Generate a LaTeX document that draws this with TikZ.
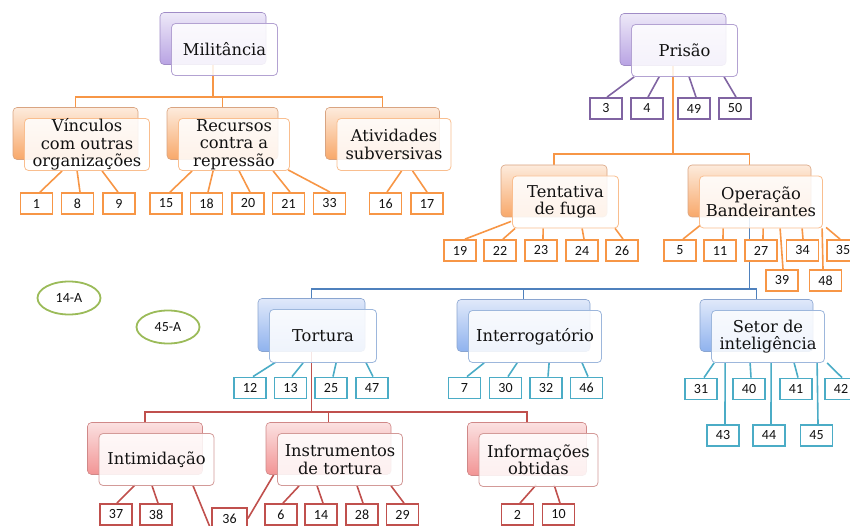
\documentclass[tikz,border=0pt]{standalone}
\usepackage{fontspec}
\setmainfont{DejaVu Serif}
\newfontfamily\numfont{Carlito}
\usetikzlibrary{shapes.geometric}
\pgfdeclarelayer{bg}
\pgfsetlayers{bg,main}
\definecolor{oL}{HTML}{F79646}
\definecolor{pL}{HTML}{8064A2}
\definecolor{bL}{HTML}{4F81BD}
\definecolor{cL}{HTML}{4BACC6}
\definecolor{rL}{HTML}{C0504D}
\definecolor{gL}{HTML}{9BBB59}
\definecolor{txt}{HTML}{111111}
% purple theme
\definecolor{tP}{HTML}{EEE9F8}\definecolor{btP}{HTML}{B8A3E3}\definecolor{bdP}{HTML}{A08CC6}\definecolor{fdP}{HTML}{B3A2D2}
% orange theme
\definecolor{tO}{HTML}{FDEBDC}\definecolor{btO}{HTML}{F8A86A}\definecolor{bdO}{HTML}{D9A481}\definecolor{fdO}{HTML}{F9BE8F}
% blue theme
\definecolor{tB}{HTML}{E0E9FA}\definecolor{btB}{HTML}{8FB2EE}\definecolor{bdB}{HTML}{8AA5D0}\definecolor{fdB}{HTML}{9DB7DC}
% red theme
\definecolor{tR}{HTML}{FBE1E1}\definecolor{btR}{HTML}{F29494}\definecolor{bdR}{HTML}{D08888}\definecolor{fdR}{HTML}{D39A98}
\tikzset{
  backbox/.style={rounded corners=4pt, line width=0.6pt, inner sep=0pt},
  backP/.style={backbox, draw=bdP, top color=tP, bottom color=btP},
  backO/.style={backbox, draw=bdO, top color=tO, bottom color=btO},
  backB/.style={backbox, draw=bdB, top color=tB, bottom color=btB},
  backR/.style={backbox, draw=bdR, top color=tR, bottom color=btR},
  frontbox/.style={rounded corners=4pt, line width=0.8pt, fill=white, fill opacity=0.86,
    text opacity=1, text=txt, align=center, inner sep=0pt,
    font=\fontsize{16.3}{17.5}\selectfont},
  frontP/.style={frontbox, draw=fdP},
  frontO/.style={frontbox, draw=fdO},
  frontB/.style={frontbox, draw=fdB},
  frontR/.style={frontbox, draw=fdR},
  numbox/.style={draw, fill=white, line width=1.8pt, minimum width=32pt, minimum height=21pt,
    inner sep=0pt, text=txt, font=\numfont\fontsize{14}{14}\selectfont},
  ob/.style={numbox, draw=oL},
  pb/.style={numbox, draw=pL},
  cb/.style={numbox, draw=cL},
  rb/.style={numbox, draw=rL},
  conn/.style={line width=1.6pt},
  ol/.style={conn, draw=oL},
  pl/.style={conn, draw=pL},
  bl/.style={conn, draw=bL},
  cl/.style={conn, draw=cL},
  rl/.style={conn, draw=rL},
  oval/.style={ellipse, draw=gL, line width=1.8pt, minimum width=63pt, minimum height=33pt,
    inner sep=0pt, text=txt, font=\numfont\fontsize{14}{14}\selectfont},
}
% #1 name, #2 theme, #3 x, #4 y (front centre), #5 width, #6 height, #7 text
\newcommand\catbox[7]{%
  \node[back#2, minimum width=#5pt, minimum height=#6pt] (#1B) at (#3-11.5,#4-11) {};
  \node[front#2, minimum width=#5pt, minimum height=#6pt] (#1) at (#3,#4) {#7};
}
% #1 style, #2 box, #3 dx on box top, #4 parent, #5 x offset from parent south west, #6 yshift
\newcommand\lk[6]{%
  \begin{pgfonlayer}{bg}
  \draw[#1] ([xshift=#3pt]#2.north) -- ([xshift=#5pt,yshift=#6pt]#4.south west);
  \end{pgfonlayer}
}
\begin{document}
\begin{tikzpicture}[x=1pt,y=-1pt]
\useasboundingbox (0,0) rectangle (850,526);
\clip (0,0) rectangle (850,526);

% category boxes
\catbox{mil}{P}{224.5}{49.5}{106}{52}{Militância}
\catbox{pri}{P}{684.5}{50.5}{106}{52}{Prisão}
\catbox{vin}{O}{87}{144.5}{125}{52}{Vínculos\\com outras\\organizações}
\catbox{rec}{O}{234}{144.5}{111}{52}{Recursos\\contra a\\repressão}
\catbox{ati}{O}{394}{144.5}{114}{52}{Atividades\\subversivas}
\catbox{ten}{O}{565.5}{202}{106}{52}{Tentativa\\de fuga}
\catbox{ope}{O}{761}{202}{123}{52}{Operação\\Bandeirantes}
\catbox{tor}{B}{323}{336}{107}{53}{Tortura}
\catbox{itg}{B}{535}{336.5}{133}{52}{Interrogatório}
\catbox{set}{B}{768}{336.5}{113}{52}{Setor de\\inteligência}
\catbox{imi}{R}{156.5}{459.5}{115}{52}{Intimidação}
\catbox{ins}{R}{340}{459.5}{125}{52}{Instrumentos\\de tortura}
\catbox{inf}{R}{538.5}{460}{119}{53}{Informações\\obtidas}

% ovals
\node[oval] (a14) at (69,298) {14-A};
\node[oval] (a45) at (168,327) {45-A};

% number boxes
\node[ob] (n1) at (36.5,203.5) {1};
\node[ob] (n8) at (77.5,203.5) {8};
\node[ob] (n9) at (119,203.5) {9};
\node[ob] (n15) at (166,203.5) {15};
\node[ob] (n18) at (206.5,203.5) {18};
\node[ob] (n20) at (248,203.5) {20};
\node[ob] (n21) at (288.5,203.5) {21};
\node[ob] (n33) at (329.5,203.5) {33};
\node[ob] (n16) at (385.5,203.5) {16};
\node[ob] (n17) at (427,203.5) {17};

\node[pb] (n3) at (606,108.5) {3};
\node[pb] (n4) at (647,108.5) {4};
\node[pb] (n49) at (694,108.5) {49};
\node[pb] (n50) at (735,108.5) {50};

\node[ob] (n19) at (460,250.5) {19};
\node[ob] (n22) at (500,250.5) {22};
\node[ob] (n23) at (541,250.5) {23};
\node[ob] (n24) at (582,250.5) {24};
\node[ob] (n26) at (622,250.5) {26};
\node[ob] (n5) at (680,250.5) {5};
\node[ob] (n11) at (720,250.5) {11};
\node[ob] (n27) at (761,250.5) {27};
\node[ob] (n34) at (802.5,250.5) {34};
\node[ob] (n35) at (843,250.5) {35};
\node[ob] (n39) at (782,280.5) {39};
\node[ob] (n48) at (825.5,280.5) {48};

\node[cb] (n12) at (250,388) {12};
\node[cb] (n13) at (290.5,388) {13};
\node[cb] (n25) at (331,388) {25};
\node[cb] (n47) at (372,388) {47};
\node[cb] (n7) at (464.5,388) {7};
\node[cb] (n30) at (505.5,388) {30};
\node[cb] (n32) at (546,388) {32};
\node[cb] (n46) at (586.5,388) {46};
\node[cb] (n31) at (701,389) {31};
\node[cb] (n40) at (749,389) {40};
\node[cb] (n41) at (796,389) {41};
\node[cb] (n42) at (841,389) {42};
\node[cb] (n43) at (723,435.5) {43};
\node[cb] (n44) at (769,435.5) {44};
\node[cb] (n45) at (816.5,435.5) {45};

\node[rb] (n37) at (116,514.5) {37};
\node[rb] (n38) at (156,514.5) {38};
\node[rb, minimum width=35pt] (n36) at (229.5,518.5) {36};
\node[rb] (n6) at (281,514.5) {6};
\node[rb] (n14) at (321,514.5) {14};
\node[rb] (n28) at (362,514.5) {28};
\node[rb] (n29) at (402.5,514.5) {29};
\node[rb] (n2) at (517.5,514.5) {2};
\node[rb] (n10) at (558.5,514.5) {10};

% trunk connectors
\coordinate (mbar) at (0,97);
\coordinate (pbar) at (0,154);
\coordinate (bbar) at (0,289);
\coordinate (rbar) at (0,412);
\begin{pgfonlayer}{bg}
\draw[ol] (milB.south) -- (milB.south |- mbar);
\draw[ol] (vinB.north) |- (atiB.north |- mbar) -- (atiB.north);
\draw[ol] (recB.north) -- (recB.north |- mbar);
\draw[ol] (priB.south) -- (priB.south |- pbar);
\draw[ol] (tenB.north) |- (opeB.north |- pbar) -- (opeB.north);
\draw[bl] (opeB.south) -- (opeB.south |- bbar);
\draw[bl] (torB.north) |- (setB.north |- bbar) -- (setB.north);
\draw[bl] (itgB.north) -- (itgB.north |- bbar);
\draw[rl] (torB.south) -- (torB.south |- rbar);
\draw[rl] (imiB.north) |- (infB.north |- rbar) -- (infB.north);
\draw[rl] (insB.north) -- (insB.north |- rbar);
\draw[rl] ([xshift=94.5pt]imi.south west) -- (n36.south west);
\draw[rl] (n36.east) -- ([xshift=8pt]insB.south west);
\end{pgfonlayer}

% leaf connectors
\lk{ol}{n1}{3.5}{vin}{38}{0}
\lk{ol}{n8}{2.5}{vin}{53}{0}
\lk{ol}{n9}{-1}{vin}{78}{0}
\lk{ol}{n15}{4}{rec}{14}{0}
\lk{ol}{n18}{1.5}{rec}{35}{0}
\lk{ol}{n20}{2}{rec}{61}{0}
\lk{ol}{n21}{1.5}{rec}{95}{0}
\lk{ol}{n33}{0.5}{rec}{110}{1}
\lk{ol}{n16}{1.5}{ati}{65}{0}
\lk{ol}{n17}{0}{ati}{76}{0}

\lk{pl}{n3}{1}{pri}{3}{0}
\lk{pl}{n4}{1}{pri}{28}{0}
\lk{pl}{n49}{2}{pri}{58}{0}
\lk{pl}{n50}{1}{pri}{93}{0}

\lk{ol}{n19}{5}{ten}{-1}{7}
\lk{ol}{n22}{3}{ten}{3}{0}
\lk{ol}{n23}{2}{ten}{31}{0}
\lk{ol}{n24}{2}{ten}{70}{0}
\lk{ol}{n26}{1}{ten}{103}{0}
\lk{ol}{n5}{3}{ope}{1}{3}
\lk{ol}{n11}{3}{ope}{24}{0}
\lk{ol}{n27}{2}{ope}{64}{0}
\lk{ol}{n34}{0.5}{ope}{103}{0}
\lk{ol}{n35}{-3}{ope}{127}{1}
\lk{ol}{n39}{1}{ope}{81}{0}
\lk{ol}{n48}{-2.5}{ope}{123}{0}

\lk{cl}{n12}{3}{tor}{7}{1}
\lk{cl}{n13}{1.5}{tor}{34}{0}
\lk{cl}{n25}{2}{tor}{67}{0}
\lk{cl}{n47}{1}{tor}{97}{0}
\lk{cl}{n7}{2.5}{itg}{16}{0}
\lk{cl}{n30}{2.5}{itg}{49}{0}
\lk{cl}{n32}{2}{itg}{81}{0}
\lk{cl}{n46}{1.5}{itg}{114}{0}
\lk{cl}{n31}{3}{set}{3}{0}
\lk{cl}{n40}{2}{set}{39}{0}
\lk{cl}{n41}{2}{set}{83}{0}
\lk{cl}{n42}{1}{set}{116}{0}
\lk{cl}{n43}{2}{set}{14}{0}
\lk{cl}{n44}{2}{set}{60}{0}
\lk{cl}{n45}{1.5}{set}{106}{0}

\lk{rl}{n37}{1}{imi}{36.5}{1}
\lk{rl}{n38}{2}{imi}{53.5}{0}
\lk{rl}{n6}{2}{ins}{22}{0}
\lk{rl}{n14}{2}{ins}{40}{0}
\lk{rl}{n28}{1}{ins}{80}{0}
\lk{rl}{n29}{1.5}{ins}{114}{0}
\lk{rl}{n2}{2.5}{inf}{57.5}{2}
\lk{rl}{n10}{1.5}{inf}{75.5}{2}
\end{tikzpicture}
\end{document}
